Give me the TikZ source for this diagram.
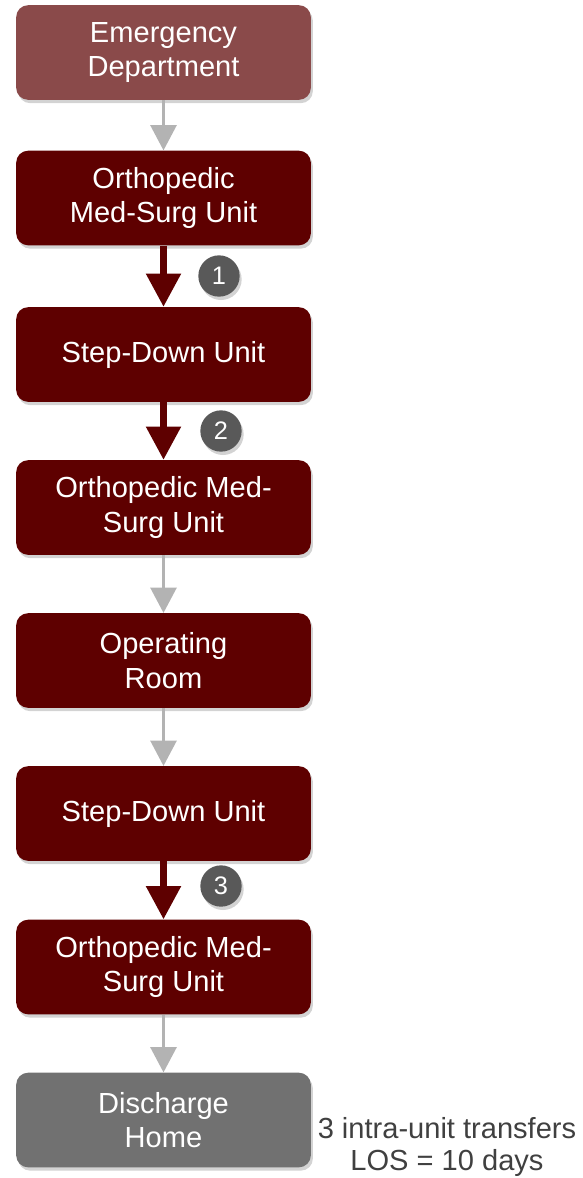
\documentclass[tikz,border=0pt]{standalone}
\usepackage{fontspec}
\setmainfont{Liberation Sans}
\usetikzlibrary{arrows.meta,positioning,shadows}
\definecolor{unitred}{HTML}{5E0000}
\definecolor{edred}{HTML}{8A4A4A}
\definecolor{homegray}{HTML}{717171}
\definecolor{badgegray}{HTML}{595959}
\definecolor{flowgray}{HTML}{B3B3B3}
\definecolor{notegray}{HTML}{404040}

\begin{document}
\begin{tikzpicture}[x=0.75pt, y=-0.75pt,
  unit/.style={rectangle, rounded corners=9pt, fill=unitred, text=white,
    minimum width=221pt, minimum height=71pt, align=center,
    font=\fontsize{21.8}{26}\selectfont,
    drop shadow={opacity=0.35, shadow xshift=1.5pt, shadow yshift=-2.5pt}},
  grayflow/.style={-{Triangle[width=19.5pt, length=19pt]}, color=flowgray, line width=2.2pt},
  redflow/.style={-{Triangle[width=25pt, length=25pt]}, color=unitred, line width=5.5pt},
  badge/.style={circle, fill=badgegray, text=white, minimum size=31pt, inner sep=0pt,
    font=\fontsize{19}{22}\selectfont,
    drop shadow={opacity=0.35, shadow xshift=1.5pt, shadow yshift=-2.5pt}}]
\path[use as bounding box] (0,0) rectangle (582,1178);
\node[unit, fill=edred] (ED) at (163.5,52.5) {Emergency\\Department};
\node[unit] (OMS1) at (163.5,198) {Orthopedic\\Med-Surg Unit};
\node[unit] (SDU1) at (163.5,354.5) {Step-Down Unit};
\node[unit] (OMS2) at (163.5,507.5) {Orthopedic Med-\\Surg Unit};
\node[unit] (OR) at (163.5,660.5) {Operating\\Room};
\node[unit] (SDU2) at (163.5,813.5) {Step-Down Unit};
\node[unit] (OMS3) at (163.5,967) {Orthopedic Med-\\Surg Unit};
\node[unit, fill=homegray] (HOME) at (163.5,1120) {Discharge\\Home};
\draw[grayflow] (ED) -- (OMS1);
\draw[redflow] (OMS1) -- (SDU1);
\draw[redflow] (SDU1) -- (OMS2);
\draw[grayflow] (OMS2) -- (OR);
\draw[grayflow] (OR) -- (SDU2);
\draw[redflow] (SDU2) -- (OMS3);
\draw[grayflow] (OMS3) -- (HOME);
\node[badge] (T1) at (219,276) {1};
\node[badge] (T2) at (221,431) {2};
\node[badge] (T3) at (221,886) {3};
\node[align=center, text=notegray, font=\fontsize{21.8}{24}\selectfont, anchor=south, inner sep=1pt] (NOTE) at (447,1178) {3 intra-unit transfers\\LOS = 10 days};
\end{tikzpicture}
\end{document}
